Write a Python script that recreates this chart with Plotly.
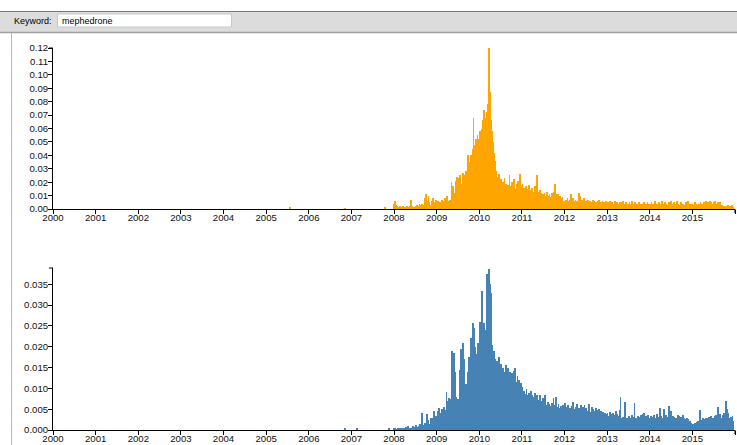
import pandas as pd
import plotly.graph_objects as go

keyword = "mephedrone"

# weekly series, first week starting 2008-01-03
first_week = "2008-01-03"

top_2008 = [0.004,0.006,0.003,0.002,0.001,0.000,0.001,0.002,0.001,0.000,0.001,0.002,0.001,
            0.000,0.001,0.001,0.002,0.000,0.001,0.002,0.001,0.007,0.002,0.001,0.000,0.001,
            0.002,0.001,0.003,0.002,0.001,0.004,0.002,0.003,0.004,0.003,0.002,0.005,0.008,
            0.011,0.006,0.004,0.010,0.005,0.003,0.002,0.006,0.008,0.004,0.003,0.005,0.007]
top_2009 = [0.005,0.004,0.006,0.003,0.005,0.004,0.007,0.005,0.003,0.006,0.008,0.005,0.004,
            0.010,0.006,0.005,0.007,0.005,0.020,0.014,0.017,0.012,0.010,0.015,0.021,0.024,
            0.017,0.023,0.015,0.025,0.014,0.019,0.027,0.022,0.025,0.020,0.028,0.024,0.040,
            0.032,0.035,0.030,0.040,0.038,0.045,0.068,0.044,0.048,0.052,0.046,0.055,0.050]
top_2010 = [0.052,0.058,0.055,0.060,0.062,0.066,0.074,0.063,0.068,0.065,0.072,0.078,0.120,
            0.087,0.066,0.062,0.058,0.050,0.042,0.036,0.033,0.028,0.024,0.021,0.026,0.019,
            0.018,0.022,0.016,0.020,0.017,0.023,0.015,0.019,0.014,0.018,0.013,0.025,0.017,
            0.016,0.020,0.014,0.018,0.022,0.015,0.013,0.019,0.016,0.021,0.014,0.026,0.018]
top_2011 = [0.014,0.019,0.012,0.016,0.013,0.017,0.011,0.015,0.013,0.018,0.014,0.012,0.015,
            0.016,0.013,0.011,0.017,0.014,0.012,0.025,0.013,0.010,0.014,0.011,0.012,0.009,
            0.011,0.008,0.012,0.010,0.009,0.013,0.008,0.010,0.011,0.007,0.009,0.012,0.008,
            0.010,0.013,0.019,0.011,0.009,0.011,0.008,0.009,0.010,0.007,0.008,0.009,0.006]
top_2012 = [0.006,0.005,0.007,0.005,0.008,0.006,0.004,0.007,0.011,0.006,0.005,0.008,0.006,
            0.005,0.007,0.004,0.006,0.005,0.012,0.008,0.010,0.006,0.007,0.005,0.008,0.006,
            0.004,0.006,0.005,0.007,0.004,0.005,0.006,0.003,0.005,0.007,0.004,0.006,0.005,
            0.004,0.005,0.006,0.004,0.007,0.005,0.003,0.005,0.006,0.004,0.005,0.004,0.006]
top_2013 = [0.004,0.003,0.005,0.004,0.006,0.003,0.004,0.005,0.003,0.004,0.006,0.004,0.003,
            0.005,0.003,0.004,0.005,0.004,0.003,0.005,0.006,0.004,0.003,0.004,0.005,0.003,
            0.004,0.003,0.005,0.004,0.003,0.006,0.004,0.003,0.004,0.005,0.003,0.004,0.003,
            0.004,0.005,0.003,0.004,0.002,0.003,0.004,0.005,0.003,0.004,0.003,0.005,0.004]
top_2014 = [0.003,0.004,0.002,0.005,0.003,0.004,0.003,0.006,0.004,0.003,0.002,0.004,0.005,
            0.003,0.004,0.003,0.006,0.004,0.003,0.005,0.003,0.004,0.002,0.003,0.005,0.004,
            0.003,0.006,0.004,0.003,0.005,0.004,0.003,0.004,0.006,0.003,0.004,0.002,0.003,
            0.005,0.004,0.003,0.004,0.002,0.003,0.005,0.004,0.003,0.006,0.004,0.003,0.004]
top_2015 = [0.003,0.004,0.002,0.003,0.005,0.003,0.004,0.002,0.003,0.004,0.003,0.005,0.003,
            0.004,0.003,0.005,0.004,0.003,0.006,0.004,0.005,0.003,0.004,0.006,0.005,0.004,
            0.003,0.005,0.004,0.006,0.003,0.004,0.005,0.003,0.004,0.005,0.002,0.003,0.002,
            0.001,0.002,0.001,0.002,0.001,0.002,0.003,0.002,0.001,0.002,0.003,0.002,0.001]

bot_2008 = [0.0003,0.0006,0.0002,0.0001,0.0004,0.0002,0.0005,0.0003,0.0001,0.0002,0.0006,0.0003,0.0002,
            0.0004,0.0008,0.0003,0.0005,0.0010,0.0004,0.0002,0.0006,0.0003,0.0005,0.0009,0.0004,0.0007,
            0.0005,0.0012,0.0006,0.0008,0.0010,0.0007,0.0015,0.0009,0.0040,0.0012,0.0010,0.0016,0.0008,
            0.0018,0.0038,0.0012,0.0025,0.0014,0.0009,0.0030,0.0011,0.0028,0.0032,0.0046,0.0029,0.0033]
bot_2009 = [0.0032,0.0045,0.0038,0.0052,0.0035,0.0042,0.0050,0.0036,0.0044,0.0055,0.0039,0.0048,0.0092,
            0.0070,0.0062,0.0078,0.0065,0.0074,0.0155,0.0190,0.0176,0.0185,0.0140,0.0122,0.0080,0.0072,
            0.0075,0.0068,0.0095,0.0145,0.0194,0.0168,0.0210,0.0170,0.0102,0.0086,0.0110,0.0095,0.0140,
            0.0120,0.0175,0.0130,0.0220,0.0195,0.0258,0.0165,0.0246,0.0200,0.0155,0.0182,0.0135,0.0210]
bot_2010 = [0.0200,0.0260,0.0185,0.0334,0.0220,0.0210,0.0258,0.0195,0.0240,0.0270,0.0374,0.0300,0.0386,
            0.0350,0.0330,0.0220,0.0205,0.0174,0.0190,0.0154,0.0170,0.0140,0.0165,0.0150,0.0175,0.0135,
            0.0148,0.0158,0.0125,0.0150,0.0130,0.0140,0.0118,0.0155,0.0125,0.0148,0.0128,0.0112,0.0140,
            0.0118,0.0138,0.0108,0.0130,0.0142,0.0150,0.0115,0.0108,0.0130,0.0100,0.0120,0.0104,0.0112]
bot_2011 = [0.0092,0.0104,0.0080,0.0094,0.0086,0.0075,0.0098,0.0084,0.0072,0.0090,0.0078,0.0094,0.0074,
            0.0084,0.0068,0.0080,0.0090,0.0070,0.0076,0.0085,0.0064,0.0072,0.0084,0.0066,0.0070,0.0060,
            0.0078,0.0058,0.0000,0.0083,0.0060,0.0055,0.0068,0.0052,0.0062,0.0058,0.0048,0.0064,0.0055,
            0.0078,0.0060,0.0050,0.0080,0.0056,0.0048,0.0062,0.0054,0.0045,0.0058,0.0046,0.0052,0.0060]
bot_2012 = [0.0050,0.0065,0.0042,0.0055,0.0040,0.0060,0.0045,0.0052,0.0038,0.0058,0.0046,0.0068,0.0050,
            0.0044,0.0056,0.0040,0.0062,0.0048,0.0054,0.0039,0.0050,0.0060,0.0046,0.0055,0.0042,0.0060,
            0.0048,0.0052,0.0040,0.0046,0.0062,0.0050,0.0038,0.0044,0.0056,0.0042,0.0050,0.0046,0.0040,
            0.0052,0.0036,0.0048,0.0042,0.0050,0.0038,0.0046,0.0040,0.0035,0.0044,0.0032,0.0042,0.0038]
bot_2013 = [0.0036,0.0042,0.0028,0.0034,0.0044,0.0030,0.0038,0.0026,0.0040,0.0032,0.0036,0.0046,0.0030,
            0.0038,0.0028,0.0034,0.0048,0.0080,0.0030,0.0024,0.0032,0.0026,0.0068,0.0028,0.0022,0.0030,
            0.0026,0.0034,0.0024,0.0030,0.0028,0.0036,0.0024,0.0032,0.0064,0.0026,0.0030,0.0024,0.0034,
            0.0028,0.0032,0.0026,0.0036,0.0024,0.0038,0.0030,0.0042,0.0028,0.0034,0.0026,0.0030,0.0036]
bot_2014 = [0.0030,0.0026,0.0034,0.0024,0.0032,0.0028,0.0036,0.0026,0.0030,0.0024,0.0038,0.0028,0.0032,
            0.0052,0.0026,0.0034,0.0024,0.0030,0.0050,0.0034,0.0028,0.0036,0.0024,0.0032,0.0058,0.0028,
            0.0030,0.0046,0.0026,0.0034,0.0024,0.0032,0.0022,0.0030,0.0026,0.0036,0.0024,0.0034,0.0026,
            0.0032,0.0024,0.0036,0.0022,0.0030,0.0026,0.0024,0.0030,0.0020,0.0026,0.0018,0.0022,0.0016]
bot_2015 = [0.0012,0.0008,0.0014,0.0010,0.0016,0.0012,0.0020,0.0014,0.0022,0.0016,0.0048,0.0018,0.0024,
            0.0020,0.0028,0.0018,0.0026,0.0030,0.0022,0.0028,0.0024,0.0032,0.0026,0.0022,0.0034,0.0028,
            0.0030,0.0026,0.0034,0.0028,0.0036,0.0024,0.0056,0.0032,0.0026,0.0038,0.0030,0.0024,0.0036,
            0.0032,0.0040,0.0028,0.0070,0.0050,0.0034,0.0042,0.0030,0.0026,0.0032,0.0024,0.0034,0.0022]

top_early_dates = ["2005-07-21", "2006-11-09", "2007-10-18"]
top_early_vals = [0.0008, 0.0005, 0.0010]
bot_early_dates = ["2006-11-09", "2007-02-15", "2007-11-22"]
bot_early_vals = [0.0004, 0.0003, 0.0006]

top_vals = top_2008 + top_2009 + top_2010 + top_2011 + top_2012 + top_2013 + top_2014 + top_2015
bot_vals = bot_2008 + bot_2009 + bot_2010 + bot_2011 + bot_2012 + bot_2013 + bot_2014 + bot_2015

weeks = list(pd.date_range(first_week, periods=len(top_vals), freq="7D"))
top_x = list(pd.to_datetime(top_early_dates)) + weeks
top_y = top_early_vals + top_vals
bot_x = list(pd.to_datetime(bot_early_dates)) + weeks
bot_y = bot_early_vals + bot_vals

W, H = 737, 445
WEEK_MS = 7 * 24 * 3600 * 1000
TICK = 4

def px(x):
    return x / W

def py(y):
    return 1 - y / H

fig = go.Figure()
fig.add_trace(go.Bar(x=top_x, y=top_y, width=WEEK_MS, marker=dict(color="#FFA500", line=dict(width=0)),
                     xaxis="x", yaxis="y", hoverinfo="skip"))
fig.add_trace(go.Bar(x=bot_x, y=bot_y, width=WEEK_MS, marker=dict(color="#4682B4", line=dict(width=0)),
                     xaxis="x2", yaxis="y2", hoverinfo="skip"))

tickfont = dict(family="Liberation Sans, Arial, sans-serif", size=9.6, color="#111")
xcommon = dict(type="date", range=["2000-01-01", "2016-01-01"], dtick="M12", tick0="2000-01-01",
               tickformat="%Y", showgrid=False, zeroline=False, showline=True, linecolor="#000",
               linewidth=1, ticks="outside", ticklen=TICK, tickcolor="#000", tickwidth=1,
               tickfont=tickfont, fixedrange=True, automargin=False, ticklabelstandoff=-5)
ycommon = dict(showgrid=False, zeroline=False, showline=True, linecolor="#000", linewidth=1,
               ticks="outside", ticklen=TICK, tickcolor="#000", tickwidth=1, tickfont=tickfont,
               fixedrange=True, automargin=False, ticklabelstandoff=-2)

fig.update_layout(
    width=W, height=H, autosize=False,
    margin=dict(l=0, r=0, t=0, b=0, pad=0, autoexpand=False),
    paper_bgcolor="#fff", plot_bgcolor="rgba(0,0,0,0)",
    showlegend=False, bargap=0,
    xaxis=dict(xcommon, domain=[px(53), px(735)], anchor="y"),
    yaxis=dict(ycommon, domain=[py(209), py(48)], range=[0, 0.12], dtick=0.01, tickformat=".2f", anchor="x"),
    xaxis2=dict(xcommon, domain=[px(53), px(735)], anchor="y2"),
    yaxis2=dict(ycommon, domain=[py(430), py(268)], range=[0, 0.0389], dtick=0.005, tickformat=".3f", anchor="x2"),
)

shapes = [
    # header band
    dict(type="rect", xref="paper", yref="paper", x0=0, x1=1, y0=py(32), y1=py(11),
         fillcolor="#dcdcdc", line=dict(width=0), layer="below"),
    dict(type="line", xref="paper", yref="paper", x0=0, x1=1, y0=py(11.5), y1=py(11.5),
         line=dict(color="#7a7a7a", width=1)),
    dict(type="line", xref="paper", yref="paper", x0=0, x1=1, y0=py(32.5), y1=py(32.5),
         line=dict(color="#a0a0a0", width=1.5)),
    # input box
    dict(type="rect", xref="paper", yref="paper", x0=px(57.5), x1=px(231.5), y0=py(27), y1=py(14),
         fillcolor="#ffffff", line=dict(color="#c8c8c8", width=1)),
    # left panel border
    dict(type="line", xref="paper", yref="paper", x0=px(11.5), x1=px(11.5), y0=0, y1=py(33),
         line=dict(color="#b8b8b8", width=1)),
]
# outer axis ticks (d3-like domain ends)
for xr, yr in (("x", "y"), ("x2", "y2")):
    shapes.append(dict(type="line", xref=f"{xr} domain", yref=f"{yr} domain", xsizemode="pixel", xanchor=0,
                       x0=-TICK, x1=0, y0=1, y1=1, line=dict(color="#000", width=1)))
    shapes.append(dict(type="line", xref=f"{xr} domain", yref=f"{yr} domain", ysizemode="pixel", yanchor=0,
                       x0=1, x1=1, y0=-TICK, y1=0, line=dict(color="#000", width=1)))
fig.update_layout(shapes=shapes)

hfont = dict(family="Liberation Sans, Arial, sans-serif", size=9, color="#000")
fig.update_layout(annotations=[
    dict(text="Keyword:", x=px(12), y=py(20.5), xref="paper", yref="paper", xanchor="left",
         yanchor="middle", showarrow=False, font=hfont),
    dict(text=keyword, x=px(60), y=py(20.5), xref="paper", yref="paper", xanchor="left",
         yanchor="middle", showarrow=False, font=hfont),
])

fig.write_html("out.html", config={"displayModeBar": False},
               post_script="document.body.style.margin='0';document.body.style.overflow='hidden';")
